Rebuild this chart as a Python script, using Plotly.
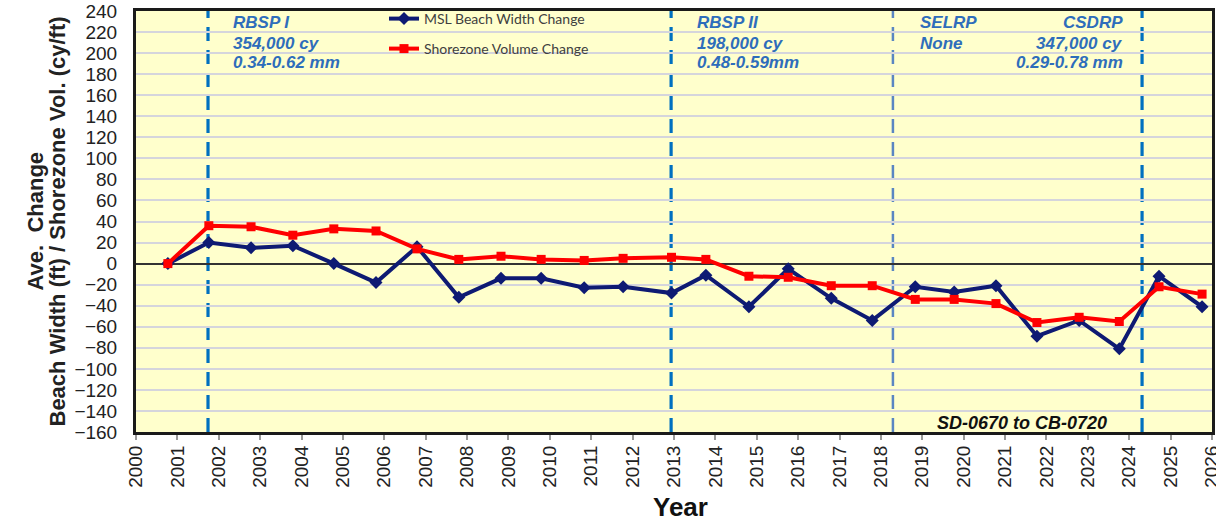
import plotly.graph_objects as go

# ---- data ----
survey_year = [2000.77, 2001.76, 2002.78, 2003.79, 2004.78, 2005.80, 2006.79, 2007.80,
               2008.82, 2009.79, 2010.83, 2011.77, 2012.94, 2013.77, 2014.81, 2015.76,
               2016.80, 2017.79, 2018.83, 2019.77, 2020.78, 2021.77, 2022.79, 2023.76,
               2024.72, 2025.76]
msl_width_change = [0, 20, 15, 17, 0, -18, 16, -32, -14, -14, -23, -22, -28, -11, -41, -5,
                    -33, -54, -22, -27, -21, -69, -54, -81, -12, -41]
shorezone_vol_change = [0, 36, 35, 27, 33, 31, 14, 4, 7, 4, 3, 5, 6, 4, -12, -13, -21, -21,
                        -34, -34, -38, -56, -51, -55, -22, -29]

project_dates = [2001.74, 2012.93, 2018.29, 2024.31]
project_names = ["RBSP I", "RBSP II", "SELRP", "CSDRP"]
project_volumes = ["354,000 cy", "198,000 cy", "None", "347,000 cy"]
project_grain = ["0.34-0.62 mm", "0.48-0.59mm", "", "0.29-0.78 mm"]

year_ticks = list(range(2000, 2027))
y_ticks = list(range(-160, 241, 20))

NAVY = "#0E1A73"
RED = "#FF0000"
NOTE_BLUE = "#2E6DBB"

fig = go.Figure()
fig.add_trace(go.Scatter(
    x=survey_year, y=msl_width_change, mode="lines+markers",
    name="MSL Beach Width Change", legend="legend",
    line=dict(color=NAVY, width=4),
    marker=dict(symbol="diamond", size=10, color=NAVY)))
fig.add_trace(go.Scatter(
    x=survey_year, y=shorezone_vol_change, mode="lines+markers",
    name="Shorezone Volume Change", legend="legend2",
    line=dict(color=RED, width=4),
    marker=dict(symbol="square", size=9, color=RED)))

# project dashed lines
for i, d in enumerate(project_dates):
    light = project_names[i] == "SELRP"
    fig.add_shape(type="line", xref="x", yref="paper", x0=d, x1=d, y0=0, y1=1,
                  layer="between",
                  line=dict(color="#5A86C2" if light else "#0070C0",
                            width=2.5 if light else 3.2, dash="14px,9px"))

row_y = [229.5, 209.6, 190.6]
note_font = dict(family="Liberation Sans", size=17, color=NOTE_BLUE)
anchors = [("left", 2002.30), ("left", 2013.51), ("left", 2018.90), ("right", 2023.90)]
for i in range(4):
    xa, xp = anchors[i]
    for r, txt in enumerate([project_names[i], project_volumes[i], project_grain[i]]):
        if not txt:
            continue
        fig.add_annotation(x=xp, y=row_y[r], xref="x", yref="y", xanchor=xa, yanchor="middle",
                           text="<b><i>" + txt + "</i></b>", showarrow=False, font=note_font)

fig.add_annotation(x=0.8234, y=0.0214, xref="paper", yref="paper", xanchor="center",
                   yanchor="middle", text="<b><i>SD-0670 to CB-0720</i></b>", showarrow=False,
                   font=dict(family="Liberation Sans", size=18, color="#111111"))

# axis titles
title_font = dict(family="Liberation Sans", size=22, color="#222222")
fig.add_annotation(x=(35 - 136) / 1076, y=0.5, xref="paper", yref="paper", xanchor="center",
                   yanchor="middle", textangle=-90, text="<b>Ave.  Change</b>",
                   showarrow=False, font=title_font)
fig.add_annotation(x=(57 - 136) / 1076, y=0.5, xref="paper", yref="paper", xanchor="center",
                   yanchor="middle", textangle=-90,
                   text="<b>Beach Width (ft) / Shorezone Vol. (cy/ft)</b>",
                   showarrow=False, font=title_font)
fig.add_annotation(x=(680 - 136) / 1076, y=-(507 - 432) / 421, xref="paper", yref="paper",
                   xanchor="center", yanchor="middle", text="<b>Year</b>", showarrow=False,
                   font=dict(family="Liberation Sans", size=26, color="#111111"))

legend_font = dict(family="Lato", size=14, color="#404040")
fig.update_layout(
    width=1216, height=519,
    margin=dict(l=136, r=4, t=11, b=87, autoexpand=False),
    paper_bgcolor="white", plot_bgcolor="#FFFFCC",
    showlegend=True,
    legend=dict(x=(384 - 136) / 1076, y=1 - (19 - 11) / 421, xanchor="left", yanchor="middle",
                bgcolor="rgba(0,0,0,0)", font=legend_font, borderwidth=0),
    legend2=dict(x=(384 - 136) / 1076, y=1 - (49 - 11) / 421, xanchor="left", yanchor="middle",
                 bgcolor="rgba(0,0,0,0)", font=legend_font, borderwidth=0),
    xaxis=dict(range=[2000, 2026], tickmode="array", tickvals=year_ticks,
               ticktext=[str(t) for t in year_ticks], tickangle=-90, automargin=False,
               ticks="outside", ticklen=5, tickwidth=1.5, tickcolor="#999999",
               ticklabelstandoff=-2, ticklabeloverflow="allow",
               showgrid=False, zeroline=False,
               showline=True, linewidth=3, linecolor="#1A1A1A", mirror=True,
               tickfont=dict(family="Liberation Sans", size=19, color="#222222")),
    yaxis=dict(range=[-160, 240], tickmode="array", tickvals=y_ticks, automargin=False,
               ticks="", ticklabelstandoff=12,
               showgrid=True, gridcolor="#D5D5DC", gridwidth=1.5,
               zeroline=True, zerolinecolor="#333333", zerolinewidth=2,
               showline=True, linewidth=3, linecolor="#1A1A1A", mirror=True,
               tickfont=dict(family="Liberation Sans", size=19, color="#222222")),
)

fig.write_html("out.html", config={"displayModeBar": False},
               post_script="document.body.style.margin='0';document.body.style.overflow='hidden';")
